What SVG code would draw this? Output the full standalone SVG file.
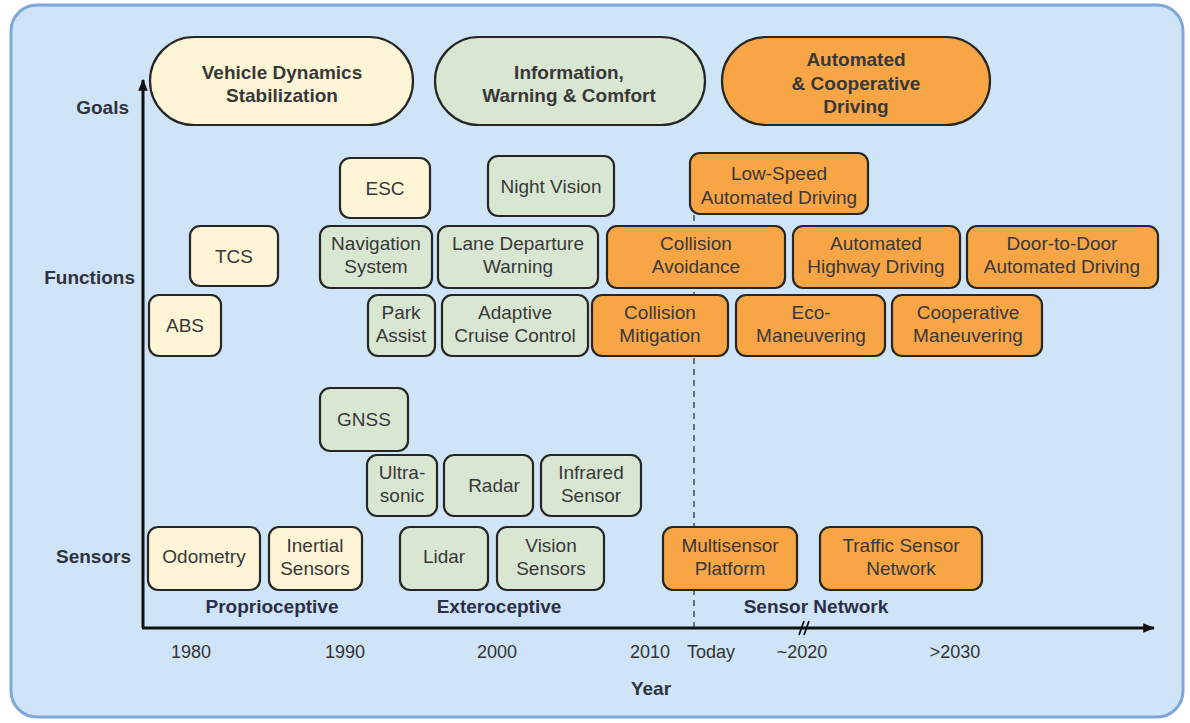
<svg xmlns="http://www.w3.org/2000/svg" width="1190" height="723" viewBox="0 0 1190 723">
<defs>
<style>
.t{font-family:"Liberation Sans",Arial,Helvetica,sans-serif;font-size:19px;fill:#383838;text-anchor:middle}
.b{font-weight:bold}
.lab{font-family:"Liberation Sans",Arial,Helvetica,sans-serif;font-size:19px;font-weight:bold;fill:#2f3340}
.cat{font-family:"Liberation Sans",Arial,Helvetica,sans-serif;font-size:19px;font-weight:bold;fill:#2b2f48;text-anchor:middle}
.yr{font-family:"Liberation Sans",Arial,Helvetica,sans-serif;font-size:18px;fill:#333;text-anchor:middle}
.box{stroke:#262626;stroke-width:2.2}
.cr{fill:#fdf5d6}
.gr{fill:#d9e7d2}
.or{fill:#f8a546}
.axis{stroke:#111;stroke-width:3;fill:none}
</style>
<marker id="ah" viewBox="0 0 10 10" refX="9" refY="5" markerWidth="4" markerHeight="4" orient="auto" markerUnits="strokeWidth">
<path d="M0,1 L10,5 L0,9 z" fill="#111"/>
</marker>
</defs>
<rect x="0" y="0" width="1190" height="723" fill="#ffffff"/>
<rect x="11" y="5" width="1172" height="712" rx="26" fill="#cfe4f6" stroke="#7ea6d8" stroke-width="3"/>

<!-- labels -->
<text class="lab" x="129" y="114" text-anchor="end">Goals</text>
<text class="lab" x="135" y="284" text-anchor="end">Functions</text>
<text class="lab" x="131" y="563" text-anchor="end">Sensors</text>

<!-- connectors / axes -->
<g id="connectors">
<line class="axis" x1="143" y1="628" x2="143" y2="80" marker-end="url(#ah)"/>
<line class="axis" x1="142" y1="628" x2="1154" y2="628" marker-end="url(#ah)"/>
<line x1="694" y1="160" x2="694" y2="627" stroke="#333" stroke-width="1.3" stroke-dasharray="6 5"/>
<line x1="799" y1="635" x2="804" y2="621" stroke="#111" stroke-width="1.8"/>
<line x1="804" y1="635" x2="809" y2="621" stroke="#111" stroke-width="1.8"/>
</g>

<!-- goals -->
<g id="goal-vds">
<rect class="box cr" x="150" y="37" width="263" height="88" rx="44"/>
<text class="t b" x="282" y="79">Vehicle Dynamics</text>
<text class="t b" x="282" y="102">Stabilization</text>
</g>
<g id="goal-iwc">
<rect class="box gr" x="435" y="37" width="270" height="88" rx="44"/>
<text class="t b" x="569" y="79">Information,</text>
<text class="t b" x="569" y="102">Warning &amp; Comfort</text>
</g>
<g id="goal-acd">
<rect class="box or" x="722" y="37" width="268" height="88" rx="44"/>
<text class="t b" x="856" y="66">Automated</text>
<text class="t b" x="856" y="90">&amp; Cooperative</text>
<text class="t b" x="856" y="113">Driving</text>
</g>

<!-- functions -->
<g id="f-esc"><rect class="box cr" x="340" y="158" width="90" height="60" rx="10"/><text class="t" x="385" y="195">ESC</text></g>
<g id="f-night"><rect class="box gr" x="488" y="156" width="126" height="60" rx="10"/><text class="t" x="551" y="193">Night Vision</text></g>
<g id="f-lowspeed"><rect class="box or" x="690" y="153" width="178" height="61" rx="10"/><text class="t" x="779" y="180">Low-Speed</text><text class="t" x="779" y="204">Automated Driving</text></g>
<g id="f-tcs"><rect class="box cr" x="190" y="226" width="88" height="60" rx="10"/><text class="t" x="234" y="263">TCS</text></g>
<g id="f-nav"><rect class="box gr" x="320" y="226" width="112" height="62" rx="10"/><text class="t" x="376" y="250">Navigation</text><text class="t" x="376" y="273">System</text></g>
<g id="f-ldw"><rect class="box gr" x="438" y="226" width="160" height="62" rx="10"/><text class="t" x="518" y="250">Lane Departure</text><text class="t" x="518" y="273">Warning</text></g>
<g id="f-ca"><rect class="box or" x="607" y="226" width="178" height="62" rx="10"/><text class="t" x="696" y="250">Collision</text><text class="t" x="696" y="273">Avoidance</text></g>
<g id="f-ahd"><rect class="box or" x="793" y="226" width="167" height="62" rx="10"/><text class="t" x="876" y="250">Automated</text><text class="t" x="876" y="273">Highway Driving</text></g>
<g id="f-d2d"><rect class="box or" x="967" y="226" width="191" height="62" rx="10"/><text class="t" x="1062" y="250">Door-to-Door</text><text class="t" x="1062" y="273">Automated Driving</text></g>
<g id="f-abs"><rect class="box cr" x="149" y="295" width="72" height="61" rx="10"/><text class="t" x="185" y="332">ABS</text></g>
<g id="f-park"><rect class="box gr" x="368" y="295" width="67" height="61" rx="10"/><text class="t" x="401" y="319">Park</text><text class="t" x="401" y="342">Assist</text></g>
<g id="f-acc"><rect class="box gr" x="442" y="295" width="146" height="61" rx="10"/><text class="t" x="515" y="319">Adaptive</text><text class="t" x="515" y="342">Cruise Control</text></g>
<g id="f-cm"><rect class="box or" x="592" y="295" width="136" height="61" rx="10"/><text class="t" x="660" y="319">Collision</text><text class="t" x="660" y="342">Mitigation</text></g>
<g id="f-eco"><rect class="box or" x="736" y="295" width="149" height="61" rx="10"/><text class="t" x="811" y="319">Eco-</text><text class="t" x="811" y="342">Maneuvering</text></g>
<g id="f-coop"><rect class="box or" x="892" y="295" width="150" height="61" rx="10"/><text class="t" x="968" y="319">Cooperative</text><text class="t" x="968" y="342">Maneuvering</text></g>

<!-- sensors -->
<g id="s-gnss"><rect class="box gr" x="320" y="388" width="88" height="63" rx="10"/><text class="t" x="364" y="426">GNSS</text></g>
<g id="s-ultra"><rect class="box gr" x="367" y="455" width="70" height="61" rx="10"/><text class="t" x="402" y="479">Ultra-</text><text class="t" x="402" y="502">sonic</text></g>
<g id="s-radar"><rect class="box gr" x="444" y="455" width="89" height="61" rx="10"/><text class="t" x="494" y="492">Radar</text></g>
<g id="s-ir"><rect class="box gr" x="541" y="455" width="100" height="61" rx="10"/><text class="t" x="591" y="479">Infrared</text><text class="t" x="591" y="502">Sensor</text></g>
<g id="s-odo"><rect class="box cr" x="148" y="527" width="112" height="63" rx="10"/><text class="t" x="204" y="563">Odometry</text></g>
<g id="s-inertial"><rect class="box cr" x="269" y="527" width="93" height="63" rx="10"/><text class="t" x="315" y="552">Inertial</text><text class="t" x="315" y="575">Sensors</text></g>
<g id="s-lidar"><rect class="box gr" x="400" y="527" width="88" height="63" rx="10"/><text class="t" x="444" y="563">Lidar</text></g>
<g id="s-vision"><rect class="box gr" x="497" y="527" width="107" height="63" rx="10"/><text class="t" x="551" y="552">Vision</text><text class="t" x="551" y="575">Sensors</text></g>
<g id="s-multi"><rect class="box or" x="663" y="527" width="134" height="63" rx="10"/><text class="t" x="730" y="552">Multisensor</text><text class="t" x="730" y="575">Platform</text></g>
<g id="s-traffic"><rect class="box or" x="820" y="527" width="162" height="63" rx="10"/><text class="t" x="901" y="552">Traffic Sensor</text><text class="t" x="901" y="575">Network</text></g>

<!-- categories -->
<text class="cat" x="272" y="613">Proprioceptive</text>
<text class="cat" x="499" y="613">Exteroceptive</text>
<text class="cat" x="816" y="613">Sensor Network</text>

<!-- years -->
<text class="yr" x="191" y="658">1980</text>
<text class="yr" x="345" y="658">1990</text>
<text class="yr" x="497" y="658">2000</text>
<text class="yr" x="650" y="658">2010</text>
<text class="yr" x="711" y="658">Today</text>
<text class="yr" x="802" y="658">~2020</text>
<text class="yr" x="955" y="658">&gt;2030</text>
<text class="lab" x="651" y="695" text-anchor="middle">Year</text>
</svg>
